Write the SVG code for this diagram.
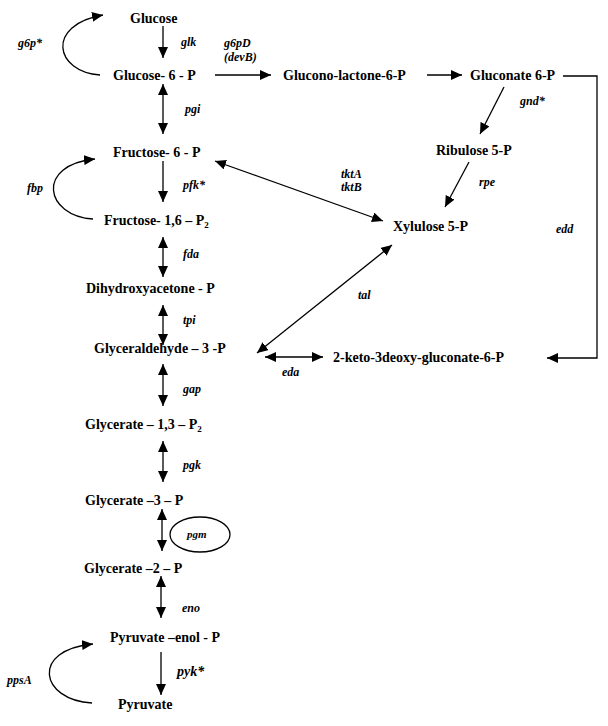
<svg xmlns="http://www.w3.org/2000/svg" width="608" height="726" viewBox="0 0 608 726">
<style>
.n{font-family:"Liberation Serif","Times New Roman",serif;font-weight:bold;font-size:14px;fill:#000}
.l{font-family:"Liberation Serif","Times New Roman",serif;font-weight:bold;font-style:italic;font-size:12px;fill:#000}
.c{stroke:#000;stroke-width:1.3;fill:none}
.s{font-size:9px}
</style>
<defs>
<marker id="ah" markerUnits="userSpaceOnUse" markerWidth="11" markerHeight="10" refX="11" refY="5" orient="auto-start-reverse" viewBox="0 0 11 10">
<path d="M0,0 L11,5 L0,10 z" fill="#000"/>
</marker>
</defs>
<rect width="608" height="726" fill="#fff"/>
<g id="connectors">
<line class="c" x1="163" y1="26" x2="163" y2="58" marker-end="url(#ah)"/>
<line class="c" x1="163" y1="84" x2="163" y2="134" marker-start="url(#ah)" marker-end="url(#ah)"/>
<line class="c" x1="163" y1="161" x2="163" y2="202" marker-end="url(#ah)"/>
<line class="c" x1="163" y1="237" x2="163" y2="277" marker-start="url(#ah)" marker-end="url(#ah)"/>
<line class="c" x1="163" y1="305" x2="163" y2="345" marker-start="url(#ah)" marker-end="url(#ah)"/>
<line class="c" x1="163" y1="364" x2="163" y2="406" marker-start="url(#ah)" marker-end="url(#ah)"/>
<line class="c" x1="163" y1="441" x2="163" y2="482" marker-start="url(#ah)" marker-end="url(#ah)"/>
<line class="c" x1="162" y1="509" x2="162" y2="551" marker-start="url(#ah)" marker-end="url(#ah)"/>
<line class="c" x1="161" y1="576" x2="161" y2="618" marker-start="url(#ah)" marker-end="url(#ah)"/>
<line class="c" x1="161" y1="652" x2="161" y2="695" marker-end="url(#ah)"/>
<path class="c" d="M100,75 C55,72 45,25 103,15" marker-end="url(#ah)"/>
<path class="c" d="M93,219 C45,216 35,165 95,159" marker-end="url(#ah)"/>
<path class="c" d="M92,703 C40,700 30,650 93,644" marker-end="url(#ah)"/>
<line class="c" x1="215" y1="75" x2="271" y2="75" marker-end="url(#ah)"/>
<line class="c" x1="427" y1="75" x2="462" y2="75" marker-end="url(#ah)"/>
<path class="c" d="M563,76 H597 V358 H547" marker-end="url(#ah)"/>
<line class="c" x1="504" y1="87" x2="480" y2="134" marker-end="url(#ah)"/>
<line class="c" x1="469" y1="162" x2="445" y2="207" marker-end="url(#ah)"/>
<line class="c" x1="215" y1="161" x2="383" y2="221" marker-start="url(#ah)" marker-end="url(#ah)"/>
<line class="c" x1="392" y1="245" x2="257" y2="353" marker-start="url(#ah)" marker-end="url(#ah)"/>
<line class="c" x1="265" y1="357" x2="323" y2="357" marker-start="url(#ah)" marker-end="url(#ah)"/>
<ellipse class="c" cx="200" cy="534.5" rx="30" ry="17.5"/>
</g>
<g id="labels">
<text class="l" x="18" y="47">g6p*</text>
<text class="l" x="181" y="46">glk</text>
<text class="l" x="224" y="47">g6pD</text>
<text class="l" x="224" y="61">(devB)</text>
<text class="l" x="185" y="113">pgi</text>
<text class="l" x="183" y="189">pfk*</text>
<text class="l" x="27" y="192">fbp</text>
<text class="l" x="183" y="258">fda</text>
<text class="l" x="183" y="324">tpi</text>
<text class="l" x="183" y="393">gap</text>
<text class="l" x="183" y="469">pgk</text>
<text class="l" x="187" y="538" style="font-size:11px">pgm</text>
<text class="l" x="182" y="612">eno</text>
<text class="l" x="177" y="676" style="font-size:14px">pyk*</text>
<text class="l" x="7" y="684">ppsA</text>
<text class="l" x="520" y="105">gnd*</text>
<text class="l" x="479" y="186">rpe</text>
<text class="l" x="341" y="178">tktA</text>
<text class="l" x="341" y="191">tktB</text>
<text class="l" x="556" y="233">edd</text>
<text class="l" x="358" y="299">tal</text>
<text class="l" x="282" y="376">eda</text>
</g>
<g id="glucose"><text class="n" x="130" y="23">Glucose</text></g>
<g id="glucose6p"><text class="n" x="113" y="80">Glucose- 6 - P</text></g>
<g id="gluconolactone6p"><text class="n" x="283" y="80">Glucono-lactone-6-P</text></g>
<g id="gluconate6p"><text class="n" x="470" y="80">Gluconate 6-P</text></g>
<g id="ribulose5p"><text class="n" x="436" y="155">Ribulose 5-P</text></g>
<g id="fructose6p"><text class="n" x="113" y="157">Fructose- 6 - P</text></g>
<g id="fructose16p2"><text class="n" x="104" y="225">Fructose- 1,6 – P<tspan class="s" dy="3">2</tspan></text></g>
<g id="xylulose5p"><text class="n" x="393" y="231">Xylulose 5-P</text></g>
<g id="dhap"><text class="n" x="86" y="293">Dihydroxyacetone - P</text></g>
<g id="g3p"><text class="n" x="94" y="353">Glyceraldehyde – 3 -P</text></g>
<g id="kdpg"><text class="n" x="333" y="362">2-keto-3deoxy-gluconate-6-P</text></g>
<g id="glycerate13p2"><text class="n" x="85" y="429">Glycerate – 1,3 – P<tspan class="s" dy="3">2</tspan></text></g>
<g id="glycerate3p"><text class="n" x="85" y="505">Glycerate –3 – P</text></g>
<g id="glycerate2p"><text class="n" x="84" y="573">Glycerate –2 – P</text></g>
<g id="pep"><text class="n" x="110" y="642">Pyruvate –enol - P</text></g>
<g id="pyruvate"><text class="n" x="118" y="709">Pyruvate</text></g>
</svg>
